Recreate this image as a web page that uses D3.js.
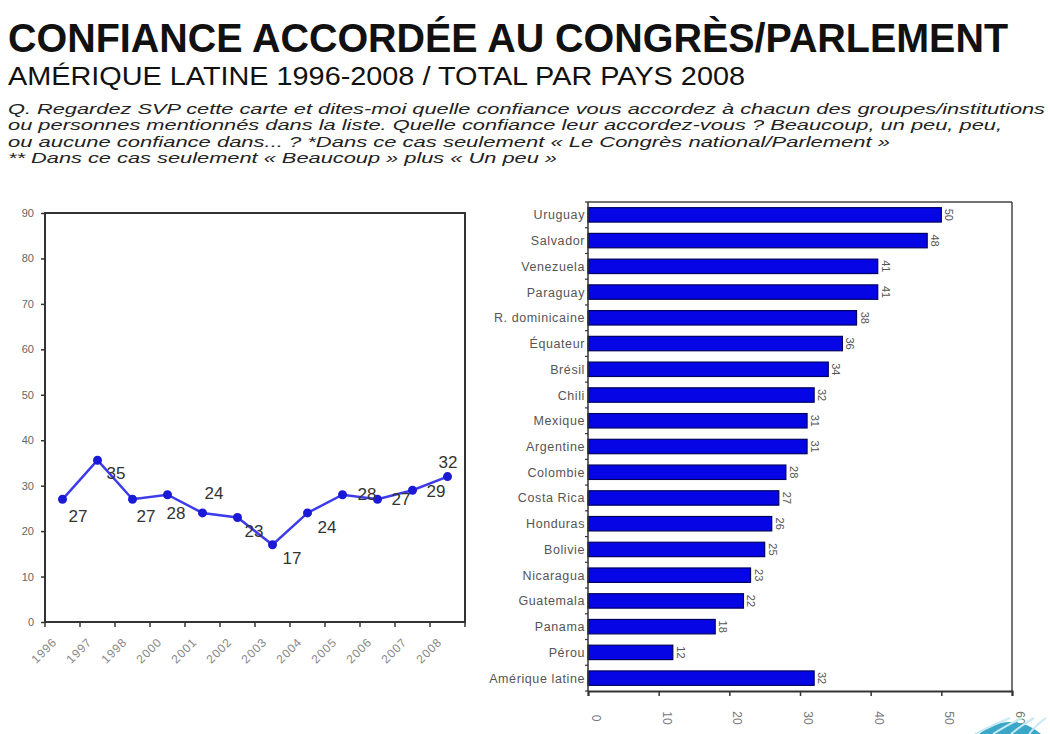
<!DOCTYPE html>
<html><head><meta charset="utf-8">
<script src="https://cdn.jsdelivr.net/npm/d3@7"></script>
<style>
html,body{margin:0;padding:0;background:#fff;}
svg{display:block;font-family:"Liberation Sans",Arial,sans-serif;}
</style></head>
<body><svg id="c" width="1050" height="734"></svg>
<script>
// ---------- DATA ----------
const years = ["1996","1997","1998","2000","2001","2002","2003","2004","2005","2006","2007","2008"];
const lineValues = [27, 35.6, 27, 28, 24, 23, 17, 24, 28, 27, 29, 32];
const lineLabels = ["27","35","27","28","24","23","17","24","28","27","29","32"];
const lineTicks = [0,10,20,30,40,50,60,70,80,90];

const countries = ["Uruguay","Salvador","Venezuela","Paraguay","R. dominicaine","Équateur","Brésil","Chili","Mexique","Argentine","Colombie","Costa Rica","Honduras","Bolivie","Nicaragua","Guatemala","Panama","Pérou","Amérique latine"];
const countryValues = [50, 48, 41, 41, 38, 36, 34, 32, 31, 31, 28, 27, 26, 25, 23, 22, 18, 12, 32];
const barTicks = [0,10,20,30,40,50,60];

const title = "CONFIANCE ACCORDÉE AU CONGRÈS/PARLEMENT";
const subtitle = "AMÉRIQUE LATINE 1996-2008 / TOTAL PAR PAYS 2008";
const questionLines = [
  "Q. Regardez SVP cette carte et dites-moi quelle confiance vous accordez à chacun des groupes/institutions",
  "ou personnes mentionnés dans la liste. Quelle confiance leur accordez-vous ? Beaucoup, un peu, peu,",
  "ou aucune confiance dans... ? *Dans ce cas seulement « Le Congrès national/Parlement »",
  "** Dans ce cas seulement « Beaucoup » plus « Un peu »"
];

// ---------- LAYOUT ----------
const svg = d3.select("#c");

// Titles
svg.append("text").attr("x", 8).attr("y", 52).attr("font-size", 40).attr("font-weight", "bold")
  .attr("fill", "#111").attr("textLength", 1000).attr("lengthAdjust", "spacingAndGlyphs").text(title);
svg.append("text").attr("x", 8).attr("y", 85).attr("font-size", 25)
  .attr("fill", "#111").attr("textLength", 737).attr("lengthAdjust", "spacingAndGlyphs").text(subtitle);
const qLens = [1037, 994, 882, 549];
const qBase = [114, 130, 147, 163];
questionLines.forEach((t, i) => {
  svg.append("text").attr("x", 8).attr("y", qBase[i]).attr("font-size", 14.5).attr("font-style", "italic")
    .attr("fill", "#222").attr("textLength", qLens[i]).attr("lengthAdjust", "spacingAndGlyphs").text(t);
});

// ---------- LINE CHART ----------
const L = {left: 45, right: 465, top: 213, bottom: 622};
const xL = d3.scaleBand().domain(years).range([L.left, L.right]).padding(0);
const yL = d3.scaleLinear().domain([0, 90]).range([L.bottom, L.top]);

const gL = svg.append("g");
gL.append("rect").attr("x", L.left).attr("y", L.top).attr("width", L.right - L.left).attr("height", L.bottom - L.top)
  .attr("fill", "#fff").attr("stroke", "#333").attr("stroke-width", 2);

// y axis ticks + labels
const yAx = gL.append("g").attr("transform", `translate(${L.left},0)`)
  .call(d3.axisLeft(yL).tickValues(lineTicks).tickSize(4).tickPadding(7).tickFormat(d3.format("d")));
yAx.select(".domain").remove();
yAx.selectAll("line").attr("stroke", "#333").attr("stroke-width", 1.5);
yAx.selectAll("text").attr("font-size", 11).attr("fill", "#666").attr("font-family", "Liberation Sans, Arial, sans-serif");

// x ticks at band boundaries
const bounds = years.map(y => xL(y)).concat([L.right]);
gL.selectAll(".xtick").data(bounds).join("line")
  .attr("x1", d => d).attr("x2", d => d).attr("y1", L.bottom).attr("y2", L.bottom + 5)
  .attr("stroke", "#333").attr("stroke-width", 1.5);
gL.selectAll(".xlab").data(years).join("text")
  .attr("transform", d => `translate(${xL(d) + xL.bandwidth()/2 - 5},${L.bottom + 21}) rotate(-45)`)
  .attr("text-anchor", "end").attr("font-size", 12).attr("letter-spacing", 0.8).attr("fill", "#888").text(d => d);

// line
const pts = years.map((y, i) => [xL(y) + xL.bandwidth()/2, yL(lineValues[i])]);
gL.append("path").attr("d", d3.line()(pts)).attr("fill", "none").attr("stroke", "#3c3cec").attr("stroke-width", 2.5);
gL.selectAll(".dot").data(pts).join("circle").attr("cx", d => d[0]).attr("cy", d => d[1]).attr("r", 4.5)
  .attr("fill", "#1a1ad6");
const labelOffsets = [[6,23],[9,19],[4,23],[-1,24],[2,-14],[7,20],[10,19],[10,20],[15,5],[14,6],[14,7],[-9,-9]];
gL.selectAll(".vl").data(pts).join("text")
  .attr("x", (d, i) => d[0] + labelOffsets[i][0]).attr("y", (d, i) => d[1] + labelOffsets[i][1])
  .attr("font-size", 17).attr("fill", "#333").text((d, i) => lineLabels[i]);

// ---------- BAR CHART ----------
const B = {left: 588, right: 1012, top: 202, bottom: 691};
const xB = d3.scaleLinear().domain([0, 60]).range([B.left, B.right]);
const yB = d3.scaleBand().domain(countries).range([B.top, B.bottom]).paddingInner(0.44).paddingOuter(0.22);
const gB = svg.append("g");
// frame top & right
gB.append("line").attr("x1", B.left).attr("x2", B.right).attr("y1", B.top).attr("y2", B.top).attr("stroke", "#444").attr("stroke-width", 1.5);
gB.append("line").attr("x1", B.right).attr("x2", B.right).attr("y1", B.top).attr("y2", B.bottom).attr("stroke", "#444").attr("stroke-width", 1.5);

gB.selectAll(".bar").data(countries).join("rect")
  .attr("x", B.left).attr("y", d => yB(d)).attr("height", yB.bandwidth())
  .attr("width", (d, i) => xB(countryValues[i]) - B.left)
  .attr("fill", "#0505e6").attr("stroke", "#000060").attr("stroke-width", 1.2);

// category labels
gB.selectAll(".cl").data(countries).join("text")
  .attr("x", B.left - 3).attr("y", d => yB(d) + yB.bandwidth()/2 + 4.5)
  .attr("text-anchor", "end").attr("font-size", 12.5).attr("letter-spacing", 0.6).attr("fill", "#555").text(d => d);

// left axis line with small ticks between categories
gB.append("line").attr("x1", B.left).attr("x2", B.left).attr("y1", B.top).attr("y2", B.bottom).attr("stroke", "#333").attr("stroke-width", 1.5);
const catBounds = countries.map(c => yB(c) - yB.step()*yB.paddingInner()/2).concat([B.bottom]);
gB.selectAll(".ct").data(catBounds).join("line")
  .attr("x1", B.left - 3).attr("x2", B.left).attr("y1", d => d).attr("y2", d => d).attr("stroke", "#333").attr("stroke-width", 1.2);

// value labels (rotated)
gB.selectAll(".bv").data(countries).join("text")
  .attr("transform", (d, i) => `translate(${xB(countryValues[i]) + 4},${yB(d) + yB.bandwidth()/2}) rotate(90)`)
  .attr("text-anchor", "middle").attr("font-size", 11).attr("fill", "#555").text((d, i) => countryValues[i]);

// bottom axis
const xAx = gB.append("g").attr("transform", `translate(0,${B.bottom})`)
  .call(d3.axisBottom(xB).tickValues(barTicks).tickSize(5).tickFormat(""));
xAx.select(".domain").attr("stroke", "#333").attr("stroke-width", 2);
xAx.selectAll("line").attr("stroke", "#333").attr("stroke-width", 1.5);
gB.selectAll(".xt").data(barTicks).join("text")
  .attr("transform", d => `translate(${xB(d) + 4},${B.bottom + 27}) rotate(90)`)
  .attr("text-anchor", "middle").attr("font-size", 12).attr("fill", "#777").text(d => d);

// logo fragment bottom-right
const logo = svg.append("g");
logo.append("circle").attr("cx", 1010).attr("cy", 768).attr("r", 46).attr("fill", "#3aa6c8");
[0,1,2,3].forEach(k => logo.append("path")
  .attr("d", `M${975 + k*18},734 Q${995 + k*14},724 ${1010 + k*12},718`)
  .attr("stroke", "#c6eaf4").attr("stroke-width", 2).attr("fill", "none"));
</script></body></html>
